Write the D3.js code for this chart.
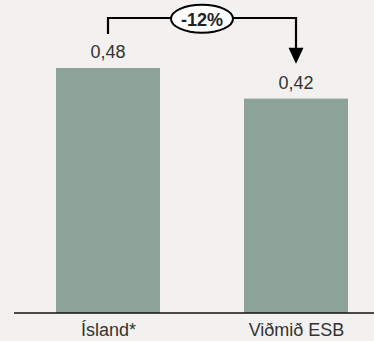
<!DOCTYPE html>
<html><head><meta charset="utf-8">
<script src="https://cdn.jsdelivr.net/npm/d3@7"></script>
<style>html,body{margin:0;padding:0;background:#f2f1ef;}svg{display:block;}</style>
</head><body>
<script>
const categories = ["Ísland*", "Viðmið ESB"];
const values = [0.48, 0.42];
const valueLabels = ["0,48", "0,42"];
const changeLabel = "-12%";

const W = 374, H = 341;
const FONT = "Liberation Sans, Arial, Helvetica, sans-serif";
const svg = d3.select("body").append("svg").attr("width", W).attr("height", H);
svg.append("rect").attr("width", W).attr("height", H).attr("fill", "#f2f1ef");

const baseY = 313;
const y = d3.scaleLinear().domain([0, 0.48]).range([baseY, 68]);
const xPos = d3.scalePoint().domain(categories).range([108, 296]);
const bw = 104;

svg.selectAll("rect.bar").data(values).join("rect")
  .attr("class", "bar")
  .attr("x", (d, i) => xPos(categories[i]) - bw / 2)
  .attr("y", d => y(d))
  .attr("width", bw)
  .attr("height", d => baseY - y(d))
  .attr("fill", "#8ba398");

svg.selectAll("text.val").data(values).join("text")
  .attr("class", "val")
  .attr("x", (d, i) => xPos(categories[i]))
  .attr("y", d => y(d) - 10)
  .attr("text-anchor", "middle")
  .attr("font-family", FONT)
  .attr("font-size", 18)
  .attr("fill", "#333")
  .text((d, i) => valueLabels[i]);

// axis
const axis = svg.append("g").attr("transform", `translate(0,${baseY})`)
  .call(d3.axisBottom(xPos).tickSize(0).tickPadding(10));
axis.select(".domain").remove();
axis.append("line").attr("x1", 14).attr("x2", 374).attr("y1", 0).attr("y2", 0)
  .attr("stroke", "#111").attr("stroke-width", 1.5);
axis.selectAll("text").attr("font-family", FONT)
  .attr("font-size", 18).attr("fill", "#333");

// bracket
const x1 = xPos(categories[0]), x2 = xPos(categories[1]);
const topY = 18;
const tipY = y(values[1]) - 35;
svg.append("path")
  .attr("d", `M${x1},${y(values[0]) - 34} V${topY} H${x2} V${tipY - 14}`)
  .attr("fill", "none").attr("stroke", "#000").attr("stroke-width", 2.2);
svg.append("path")
  .attr("d", `M${x2 - 7.5},${tipY - 16} L${x2 + 7.5},${tipY - 16} L${x2},${tipY} Z`)
  .attr("fill", "#000");
const cx = (x1 + x2) / 2;
svg.append("ellipse").attr("cx", cx).attr("cy", 18.7).attr("rx", 31).attr("ry", 14)
  .attr("fill", "#fff").attr("stroke", "#000").attr("stroke-width", 2);
svg.append("text").attr("x", cx).attr("y", 26).attr("text-anchor", "middle")
  .attr("font-family", FONT).attr("font-weight", "bold")
  .attr("font-size", 18).attr("fill", "#222").text(changeLabel);
</script>
</body></html>
